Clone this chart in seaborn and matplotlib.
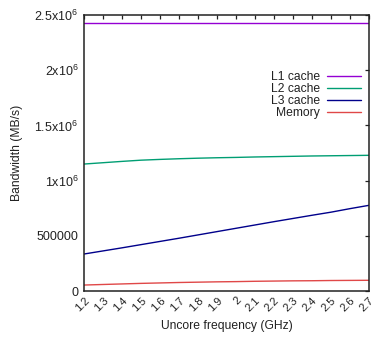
import numpy as np
import pandas as pd
import matplotlib
matplotlib.use("Agg")
import matplotlib.pyplot as plt
import seaborn as sns

# Measured bandwidth per cache level across uncore frequencies
freq = [1.2, 1.3, 1.4, 1.5, 1.6, 1.7, 1.8, 1.9, 2.0, 2.1, 2.2, 2.3, 2.4, 2.5, 2.6, 2.7]
l1_cache = [2428000, 2428000, 2428000, 2428000, 2428000, 2428000, 2428000, 2428000,
            2428000, 2428000, 2428000, 2428000, 2428000, 2428000, 2428000, 2428000]
l2_cache = [1150000, 1162000, 1174000, 1185000, 1192000, 1198000, 1203000, 1207000,
            1210000, 1214000, 1217000, 1220000, 1223000, 1225000, 1227000, 1229000]
l3_cache = [335000, 363000, 391000, 420000, 449000, 478000, 508000, 538000,
            568000, 598000, 628000, 657000, 686000, 714000, 746000, 776000]
memory = [54000, 59000, 64000, 69000, 73000, 77000, 80000, 83000,
          85000, 88000, 90000, 92000, 93000, 95000, 96000, 97000]

series_names = ["L1 cache", "L2 cache", "L3 cache", "Memory"]
series_colors = ["#9400d3", "#009e73", "#00008b", "#e04848"]
y_ticks = [0, 500000, 1000000, 1500000, 2000000, 2500000]
y_tick_labels = ["0", "500000", "1x10$^6$", "1.5x10$^6$", "2x10$^6$", "2.5x10$^6$"]
x_tick_labels = ["1.2", "1.3", "1.4", "1.5", "1.6", "1.7", "1.8", "1.9",
                 "2", "2.1", "2.2", "2.3", "2.4", "2.5", "2.6", "2.7"]

df = pd.DataFrame({
    "freq": freq * 4,
    "bw": l1_cache + l2_cache + l3_cache + memory,
    "level": sum([[n] * len(freq) for n in series_names], []),
})

sns.set_style("white")
plt.rcParams["font.family"] = ["Liberation Sans", "DejaVu Sans"]
plt.rcParams["mathtext.fontset"] = "custom"
plt.rcParams["mathtext.rm"] = "Liberation Sans"
plt.rcParams["mathtext.it"] = "Liberation Sans"

fig = plt.figure(figsize=(3.71, 3.38), dpi=100)
ax = fig.add_axes([84 / 371, 47 / 338, 285 / 371, 276 / 338])

sns.lineplot(data=df, x="freq", y="bw", hue="level", hue_order=series_names,
             palette=series_colors, linewidth=1.0, ax=ax, legend=False)

ax.set_xlim(1.2, 2.7)
ax.set_ylim(0, 2500000)
ax.set_xticks(freq)
ax.set_xticklabels(x_tick_labels, rotation=45, ha="right", va="top",
                   rotation_mode="anchor", fontsize=8)
ax.set_yticks(y_ticks)
ax.set_yticklabels(y_tick_labels, fontsize=9)
ax.tick_params(axis="both", direction="in", length=3, width=0.9,
               top=True, right=True, color="#222222", labelcolor="#222222")
ax.tick_params(axis="y", pad=4)
ax.tick_params(axis="x", pad=3)
for s in ax.spines.values():
    s.set_visible(True)
    s.set_linewidth(1.1)
    s.set_color("#222222")

ax.set_xlabel("Uncore frequency (GHz)", fontsize=8.7, labelpad=5, color="#222222")
ax.set_ylabel("Bandwidth (MB/s)", fontsize=8.7, labelpad=8, color="#222222")

handles = [plt.Line2D([], [], color=c, linewidth=1.0) for c in series_colors]
leg = ax.legend(handles, series_names, loc="upper right", bbox_to_anchor=(0.99, 0.813),
                frameon=False, markerfirst=False, fontsize=8.7, handlelength=2.8,
                labelspacing=0.0, handletextpad=0.6, borderaxespad=0)
for t in leg.get_texts():
    t.set_ha("right")
    t.set_color("#222222")

fig.savefig("out.png", dpi=100)
